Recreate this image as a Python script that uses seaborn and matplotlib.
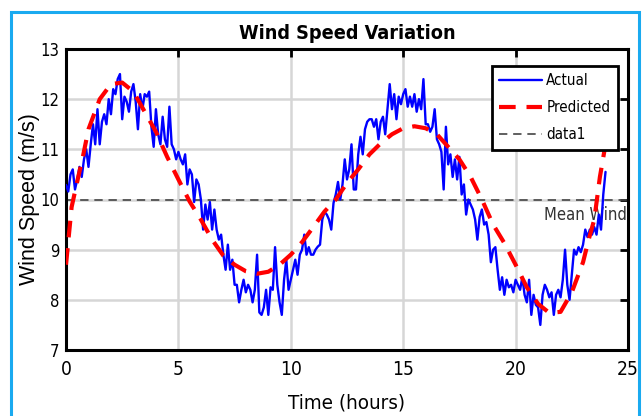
import numpy as np
import pandas as pd
import seaborn as sns
import matplotlib.pyplot as plt
from matplotlib import font_manager
from matplotlib.patches import Rectangle

# Measured wind speed, sampled every 0.1 h from 0 to 24 h
time_hours = np.round(np.arange(0, 241) * 0.1, 1)
actual_speed = [
    10.29, 10.16, 10.5, 10.6, 10.2, 10.4, 10.65, 10.45, 10.8, 11.0,
    10.65, 11.1, 11.5, 11.1, 11.8, 11.1, 11.55, 11.7, 11.5, 12.0,
    11.7, 12.2, 12.1, 12.4, 12.5, 11.6, 12.05, 11.95, 11.75, 12.15,
    12.3, 11.95, 11.4, 12.1, 11.8, 12.1, 12.05, 12.15, 11.45, 11.05,
    11.8, 11.3, 11.1, 11.65, 11.2, 11.05, 11.85, 11.1, 11.0, 10.8,
    10.95, 10.8, 10.7, 10.9, 10.3, 10.6, 10.5, 9.95, 10.4, 10.3,
    10.0, 9.4, 9.9, 9.6, 9.95, 9.4, 9.8, 9.4, 9.2, 9.3,
    8.9, 8.6, 9.1, 8.6, 8.8, 8.3, 8.3, 7.95, 8.2, 8.4,
    8.15, 8.3, 8.2, 7.95, 8.2, 8.9, 7.75, 7.7, 7.85, 8.2,
    7.7, 8.25, 8.2, 9.05, 8.3, 7.95, 7.7, 8.4, 8.8, 8.2,
    8.4, 8.6, 8.8, 8.5, 8.9, 9.0, 9.3, 8.9, 9.05, 8.9,
    8.9, 9.0, 9.06, 9.1, 9.6, 9.75, 9.7, 9.6, 9.4, 9.93,
    10.1, 10.35, 10.0, 10.3, 10.8, 10.4, 10.6, 11.1, 10.2, 10.2,
    10.9, 11.25, 10.9, 11.4, 11.55, 11.6, 11.6, 11.45, 11.6, 11.2,
    11.55, 11.65, 11.3, 11.8, 12.3, 11.8, 12.1, 11.6, 12.05, 11.9,
    12.1, 12.2, 11.85, 12.05, 11.85, 12.1, 11.75, 12.0, 11.8, 12.4,
    11.5, 11.5, 11.35, 11.45, 11.8, 11.2, 11.1, 10.95, 10.2, 11.45,
    10.7, 10.9, 10.45, 10.8, 10.4, 10.85, 10.1, 10.3, 9.7, 10.0,
    9.9, 9.8, 9.6, 9.2, 9.65, 9.8, 9.5, 9.55, 9.3, 8.75,
    9.0, 9.05, 8.6, 8.2, 8.45, 8.1, 8.4, 8.25, 8.3, 8.15,
    8.4, 8.3, 8.2, 8.45, 8.1, 7.95, 8.4, 7.7, 8.1, 7.9,
    7.85, 7.5, 8.1, 8.3, 8.2, 8.05, 8.15, 7.7, 8.1, 8.2,
    8.05, 8.4, 9.0, 8.3, 8.0, 8.5, 9.0, 8.9, 9.05, 8.95,
    9.1, 9.4, 9.25, 9.4, 9.3, 9.45, 9.3, 9.7, 9.4, 10.1,
    10.55,
]

# Predicted curve
pred_time = [0, 0.25, 0.5, 0.75, 1.0, 1.5, 2.0, 2.5, 3.0, 3.5, 4.0, 4.5, 5.0,
             5.5, 6.0, 6.5, 7.0, 7.5, 8.0, 8.5, 9.0, 9.5, 10.0, 10.5, 11.0,
             11.5, 12.0, 12.5, 13.0, 13.5, 14.0, 14.5, 15.0, 15.5, 16.0, 16.5,
             17.0, 17.5, 18.0, 18.5, 19.0, 19.5, 20.0, 20.5, 21.0, 21.5, 22.0,
             22.5, 23.0, 23.25, 23.5, 23.75, 24.0]
pred_speed = [8.7, 9.85, 10.36, 10.85, 11.4, 12.0, 12.3, 12.33, 12.15, 11.75,
              11.35, 10.85, 10.4, 9.96, 9.6, 9.2, 8.88, 8.7, 8.57, 8.52, 8.56,
              8.7, 8.9, 9.15, 9.45, 9.76, 10.0, 10.33, 10.6, 10.9, 11.12, 11.3,
              11.42, 11.46, 11.42, 11.3, 11.05, 10.8, 10.45, 10.0, 9.5, 9.13,
              8.7, 8.25, 7.92, 7.74, 7.76, 8.15, 8.75, 9.2, 9.6, 10.45, 11.1]

mean_wind = 10
x_ticks = [0, 5, 10, 15, 20, 25]
y_ticks = [7, 8, 9, 10, 11, 12, 13]

df_actual = pd.DataFrame({"time": time_hours, "speed": actual_speed})
df_pred = pd.DataFrame({"time": pred_time, "speed": pred_speed})

sns.set_style("white")
plt.rcParams.update({"text.color": "black", "axes.labelcolor": "black",
                     "xtick.color": "black", "ytick.color": "black"})

# a condensed face if one is installed, otherwise smaller regular text
fam_names = {f.name for f in font_manager.fontManager.ttflist}
cond = [f for f in font_manager.fontManager.ttflist
        if f.name == "DejaVu Sans" and f.stretch == "condensed"]
if "Liberation Sans Narrow" in fam_names:
    plt.rcParams["font.family"] = ["Liberation Sans Narrow", "DejaVu Sans"]
    k = 1.0
elif cond:
    plt.rcParams["font.family"] = ["DejaVu Sans"]
    plt.rcParams["font.stretch"] = "condensed"
    k = 0.95
else:
    plt.rcParams["font.family"] = ["Liberation Sans", "DejaVu Sans"]
    k = 0.82

fig = plt.figure(figsize=(6.43, 4.16), dpi=100)
ax = fig.add_axes([66 / 643, 1 - 350 / 416, 562 / 643, 301 / 416])

# cyan frame around the figure
fig.patches.append(Rectangle((11 / 643, -0.02), 628 / 643, 1.02 - 12 / 416,
                             transform=fig.transFigure, fill=False,
                             edgecolor="#1aaaf0", linewidth=2.2, zorder=0))

ax.grid(True, color="#d6d6d6", linewidth=1.8, zorder=0)
ax.set_axisbelow(True)

sns.lineplot(data=df_actual, x="time", y="speed", color="blue", linewidth=1.7,
             label="Actual", ax=ax, zorder=3)
sns.lineplot(data=df_pred, x="time", y="speed", color="red", linewidth=3,
             dashes=False, label="Predicted", ax=ax, zorder=4)
ax.lines[-1].set_dashes((4, 2.6))
ax.axhline(mean_wind, color="#444444", linewidth=1.2, dashes=(5, 3.5),
           label="data1", zorder=2)
ax.text(24.95, 9.7, "Mean Wind", ha="right", va="center", fontsize=12.5 * k,
        color="#333333", zorder=2)

ax.set_xlim(0, 25)
ax.set_ylim(7, 13)
ax.set_xticks(x_ticks)
ax.set_yticks(y_ticks)
ax.tick_params(direction="in", length=6, width=2, top=True, right=True,
               pad=7)
ax.tick_params(axis="x", labelsize=14.5 * k)
ax.tick_params(axis="y", labelsize=12.5 * k, pad=5)
for s in ax.spines.values():
    s.set_linewidth(2.2)
    s.set_color("black")

ax.set_title("Wind Speed Variation", fontsize=15 * k, fontweight="bold", pad=7)
ax.set_xlabel("Time (hours)", fontsize=15.5 * k)
ax.xaxis.set_label_coords(0.5, -0.145)
ax.set_ylabel("Wind Speed (m/s)", fontsize=15.5,
              family=["Liberation Sans", "DejaVu Sans"], stretch="normal")
ax.yaxis.set_label_coords(-0.047, 0.5)

leg = ax.legend(loc="upper right", bbox_to_anchor=(0.982, 0.945),
                borderaxespad=0, fontsize=11.5 * k, handlelength=2.8,
                labelspacing=0.8, handletextpad=0.3, borderpad=0.5,
                fancybox=False, framealpha=1)
leg.get_frame().set_edgecolor("black")
leg.get_frame().set_linewidth(2)

fig.savefig("out.png", dpi=100)
